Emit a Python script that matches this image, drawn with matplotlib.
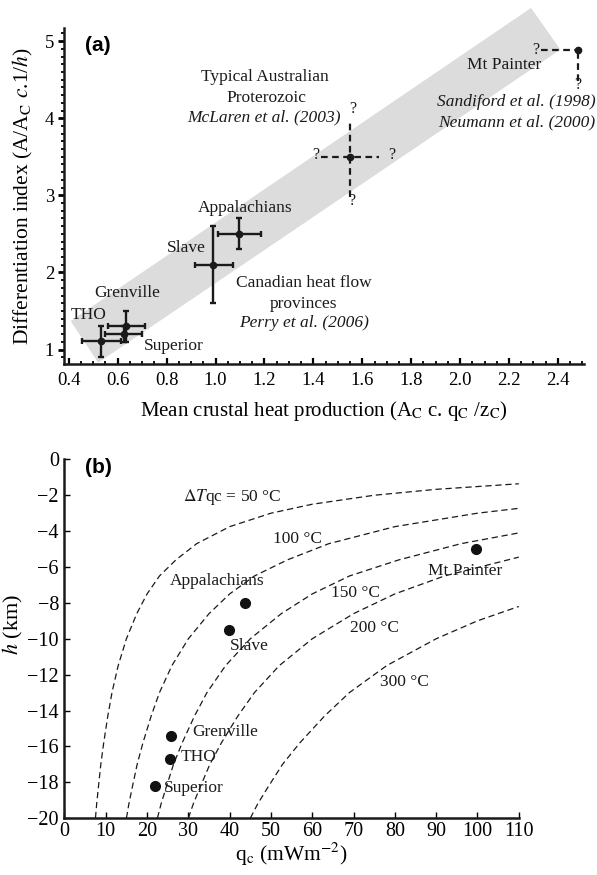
import matplotlib
matplotlib.use("Agg")
import matplotlib.pyplot as plt
from matplotlib.patches import Polygon
from matplotlib.ticker import MultipleLocator, FormatStrFormatter

plt.rcParams['font.family'] = ['Liberation Serif', 'DejaVu Serif']
plt.rcParams['mathtext.fontset'] = 'stix'

# ---- panel (a): differentiation index vs mean crustal heat production ----
prov_names = ["THO", "Superior", "Grenville", "Slave", "Appalachians"]
prov_heat = [0.53, 0.625, 0.635, 0.99, 1.095]
prov_heat_lo = [0.455, 0.55, 0.56, 0.915, 1.01]
prov_heat_hi = [0.615, 0.70, 0.71, 1.07, 1.185]
prov_index = [1.11, 1.20, 1.30, 2.10, 2.50]
prov_index_lo = [0.90, 1.10, 1.10, 1.60, 2.30]
prov_index_hi = [1.30, 1.30, 1.50, 2.60, 2.70]

aus_heat, aus_index = 1.55, 3.5
aus_heat_range = [1.43, 1.67]
aus_index_range = [2.98, 3.97]

mtp_heat, mtp_index = 2.48, 4.89
mtp_heat_range = [2.33, 2.51]
mtp_index_range = [4.48, 4.89]

band_heat = [0.408, 2.29, 2.41, 0.52]
band_index = [1.37, 5.43, 4.89, 0.83]

# ---- panel (b): depth scale h vs reduced heat flow qc ----
pt_names = ["THO", "Superior", "Grenville", "Slave", "Appalachians", "Mt Painter"]
pt_qc = [25.5, 21.9, 25.9, 39.9, 43.8, 99.7]
pt_h = [-16.7, -18.2, -15.4, -9.5, -8.0, -5.0]

# isotherm curves (delta T_qc)
curve_qc_50 = [7.5, 7.8, 8.2, 8.8, 9.5, 10.5, 11.5, 13, 15, 17.5, 20, 23, 27, 32, 40,
               50, 60, 75, 90, 110]
curve_h_50 = [-20, -19.2, -18.3, -17.0, -15.8, -14.3, -13.0, -11.5, -10, -8.6, -7.5,
              -6.5, -5.6, -4.7, -3.75, -3, -2.5, -2, -1.67, -1.36]
curve_qc_100 = [15, 15.6, 16.4, 17.6, 19, 21, 23, 26, 30, 35, 40, 46, 54, 64, 80, 100, 110]
curve_h_100 = [-20, -19.2, -18.3, -17.0, -15.8, -14.3, -13.0, -11.5, -10, -8.6, -7.5,
               -6.5, -5.6, -4.7, -3.75, -3, -2.73]
curve_qc_150 = [22.5, 23.4, 24.6, 26.4, 28.5, 31.5, 34.5, 39, 45, 52.5, 60, 69, 81, 96, 110]
curve_h_150 = [-20, -19.2, -18.3, -17.0, -15.8, -14.3, -13.0, -11.5, -10, -8.6, -7.5,
               -6.5, -5.6, -4.7, -4.1]
curve_qc_200 = [30, 31.2, 32.8, 35.2, 38, 42, 46, 52, 60, 70, 80, 92, 110]
curve_h_200 = [-20, -19.2, -18.3, -17.0, -15.8, -14.3, -13.0, -11.5, -10, -8.6, -7.5,
               -6.5, -5.45]
curve_qc_300 = [45, 46.8, 49.2, 52.8, 57, 63, 69, 78, 90, 100, 110]
curve_h_300 = [-20, -19.2, -18.3, -17.0, -15.8, -14.3, -13.0, -11.5, -10, -9.0, -8.2]

fig = plt.figure(figsize=(5.97, 8.75), dpi=100)
ax1 = fig.add_axes([0.107, 0.584, 0.871, 0.384])
ax2 = fig.add_axes([0.108, 0.065, 0.761, 0.410])
ink = '#1a1a1a'

# ---------------- panel (a) ----------------
band = Polygon(list(zip(band_heat, band_index)), closed=True,
               facecolor='#dcdcdc', edgecolor='none', clip_on=False, zorder=0)
ax1.add_patch(band)

for i in range(len(prov_names)):
    xerr = [[prov_heat[i] - prov_heat_lo[i]], [prov_heat_hi[i] - prov_heat[i]]]
    yerr = [[prov_index[i] - prov_index_lo[i]], [prov_index_hi[i] - prov_index[i]]]
    ax1.errorbar(prov_heat[i], prov_index[i], xerr=xerr, yerr=yerr, fmt='o',
                 color=ink, ms=4.5, elinewidth=1.7, capsize=2.5,
                 capthick=1.7, zorder=3)

dashed = (0, (3, 2))
ax1.plot(aus_heat_range, [aus_index, aus_index], ls=dashed, color=ink, lw=1.6)
ax1.plot([aus_heat, aus_heat], aus_index_range, ls=dashed, color=ink, lw=1.6)
ax1.plot(aus_heat, aus_index, 'o', color=ink, ms=4.5)
ax1.plot(mtp_heat_range, [mtp_index, mtp_index], ls=dashed, color=ink,
         lw=1.6, clip_on=False)
ax1.plot([mtp_heat, mtp_heat], mtp_index_range, ls=dashed, color=ink, lw=1.6)
ax1.plot(mtp_heat, mtp_index, 'o', color=ink, ms=4.5, clip_on=False)

fs = 12.5
q = dict(fontsize=11.5, ha='center', va='center', color=ink)
ax1.text(1.56, 4.12, "?", **q)
ax1.text(1.41, 3.52, "?", **q)
ax1.text(1.72, 3.52, "?", **q)
ax1.text(1.555, 2.93, "?", **q)
ax1.text(2.31, 4.89, "?", **q)
ax1.text(2.48, 4.43, "?", **q)

t = dict(fontsize=fs, ha='center', va='center', color=ink)
ax1.text(1.20, 4.53, "Typical Australian", **t)
ax1.text(1.21, 4.26, "Proterozoic", **t)
ax1.text(1.20, 4.01, "McLaren et al. (2003)", style='italic', **t)
ax1.text(2.18, 4.69, "Mt Painter", **t)
ax1.text(2.23, 4.21, "Sandiford et al. (1998)", style='italic', **t)
ax1.text(2.23, 3.94, "Neumann et al. (2000)", style='italic', **t)
ax1.text(1.12, 2.84, "Appalachians", **t)
ax1.text(0.88, 2.32, "Slave", **t)
ax1.text(0.64, 1.74, "Grenville", **t)
ax1.text(0.48, 1.45, "THO", **t)
ax1.text(0.83, 1.05, "Superior", **t)
ax1.text(1.36, 1.86, "Canadian heat flow", **t)
ax1.text(1.36, 1.59, "provinces", **t)
ax1.text(1.36, 1.34, "Perry et al. (2006)", style='italic', **t)
ax1.text(0.52, 4.94, "(a)", fontsize=15, fontweight='bold', family='Liberation Sans',
         ha='center', va='center')

ax1.set_xlim(0.38, 2.506)
ax1.set_ylim(0.813, 5.17)
ax1.xaxis.set_major_locator(MultipleLocator(0.2))
ax1.xaxis.set_minor_locator(MultipleLocator(0.05))
ax1.yaxis.set_major_locator(MultipleLocator(1))
ax1.yaxis.set_minor_locator(MultipleLocator(0.1))
ax1.xaxis.set_major_formatter(FormatStrFormatter('%.1f'))
ax1.tick_params(axis='x', which='major', direction='in', length=4, width=1.6, labelsize=13.5, pad=6)
ax1.tick_params(axis='x', which='minor', direction='in', length=2.5, width=1.3)
ax1.tick_params(axis='y', which='major', direction='out', length=4, width=2, labelsize=13.5, pad=3)
ax1.tick_params(axis='y', which='minor', direction='out', length=2.5, width=1.3)
ax1.set_xlabel(r"Mean crustal heat production (A$_\mathrm{C}$ c. q$_\mathrm{C}$ /z$_\mathrm{C}$)",
               fontsize=15, labelpad=7)
ax1.set_ylabel(r"Differentiation index (A/A$_\mathrm{C}$ $c$.1/$h$)", fontsize=15.5, labelpad=7)
for s in ['top', 'right']:
    ax1.spines[s].set_visible(False)
for s in ['left', 'bottom']:
    ax1.spines[s].set_linewidth(1.8)
    ax1.spines[s].set_color(ink)

# ---------------- panel (b) ----------------
dash = (0, (5, 3))
for cq, ch in [(curve_qc_50, curve_h_50), (curve_qc_100, curve_h_100),
               (curve_qc_150, curve_h_150), (curve_qc_200, curve_h_200),
               (curve_qc_300, curve_h_300)]:
    ax2.plot(cq, ch, ls=dash, color=ink, lw=0.9)

ax2.plot(pt_qc, pt_h, 'o', color='#111111', ms=7, zorder=3)

ax2.text(40.6, -2.08, r"$\Delta T$qc = 50 °C", **t)
ax2.text(56.5, -4.46, "100 °C", **t)
ax2.text(70.5, -7.46, "150 °C", **t)
ax2.text(75.1, -9.38, "200 °C", **t)
ax2.text(82.3, -12.4, "300 °C", **t)
ax2.text(37.0, -6.8, "Appalachians", **t)
ax2.text(44.8, -10.4, "Slave", **t)
ax2.text(96.9, -6.2, "Mt Painter", **t)
ax2.text(38.8, -15.2, "Grenville", **t)
ax2.text(32.5, -16.6, "THO", **t)
ax2.text(31.4, -18.3, "Superior", **t)
ax2.text(8.2, -0.43, "(b)", fontsize=15, fontweight='bold', family='Liberation Sans',
         ha='center', va='center')

ax2.set_xlim(0, 110)
ax2.set_ylim(-20, 0)
ax2.xaxis.set_major_locator(MultipleLocator(10))
ax2.yaxis.set_major_locator(MultipleLocator(2))
ax2.tick_params(axis='both', which='major', direction='in', length=4, width=1.0,
                labelsize=14.5)
ax2.tick_params(axis='x', pad=3)
ax2.tick_params(axis='y', pad=4)
ax2.set_xlabel(r"q$_\mathrm{c}$ (mWm$^{-2}$)", fontsize=15.5, labelpad=0)
ax2.set_ylabel(r"$h$ (km)", fontsize=16, labelpad=0)
ax2.yaxis.set_label_coords(-0.087, 0.54)
for s in ['top', 'right']:
    ax2.spines[s].set_visible(False)
for s in ['left', 'bottom']:
    ax2.spines[s].set_linewidth(1.8)
    ax2.spines[s].set_color(ink)

fig.savefig("out.png", dpi=100)
